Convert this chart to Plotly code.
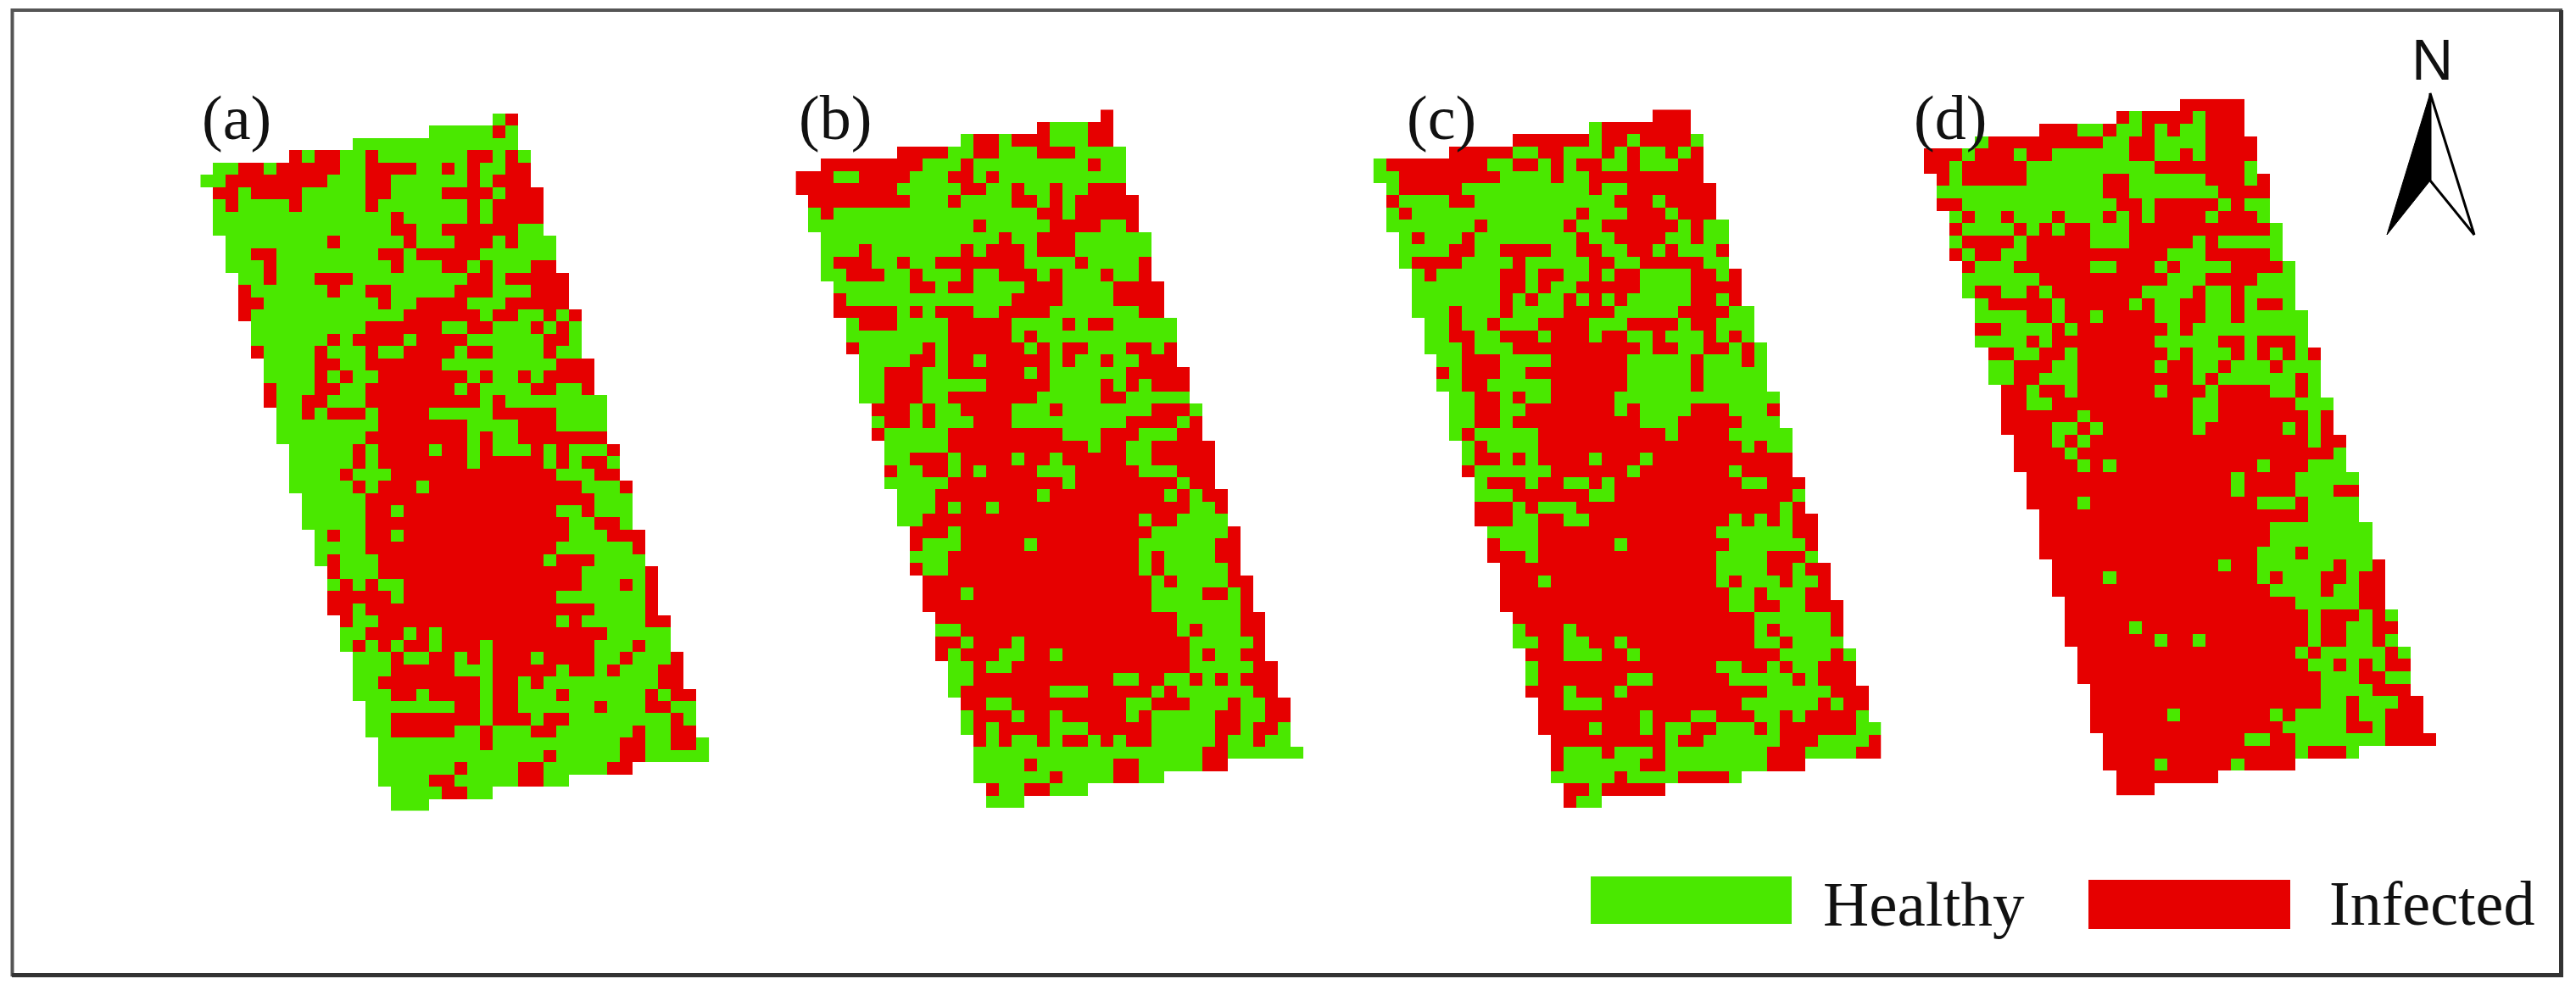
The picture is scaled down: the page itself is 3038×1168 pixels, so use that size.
import plotly.graph_objects as go

W = 3038
H = 1168

GREEN = "#4AE800"
RED = "#E60000"

# each row: colour + column where that colour starts, ".N" = where the row ends
PANEL_A = """g23 r24 .25
g18 r23 g24 .25
g12 .25
r7 g8 r9 g11 r13 g14 r21 g23 r24 g25 .26
g1 r3 g5 r6 g11 r13 g17 r19 g20 r21 g22 r24 .26
g0 r2 g10 r13 g15 r21 g22 r23 .26
r1 g3 r4 g8 r13 g15 r19 g23 r24 .27
g1 r2 g3 r7 g8 r13 g14 r21 g22 r23 .27
g1 r15 g16 r21 g22 r23 .27
g1 r15 g17 r19 g25 .27
g2 r10 g11 r16 g17 r20 g23 r24 g25 .28
g2 r4 g6 r14 g16 r17 g22 .28
g2 r5 g6 r15 g16 r19 g21 r22 g23 r26 .28
g3 r5 g6 r9 g12 r21 g23 r24 .29
r3 g4 r10 g11 r13 g15 r20 g23 r26 .29
r3 g5 r14 g15 r17 g21 r24 .29
r3 g4 r16 g22 r23 g25 r27 g28 r29 .30
g4 r13 g19 r21 g23 r26 g27 r28 g29 .30
g4 r10 g11 r12 g16 r17 g21 r27 g29 .30
r4 g5 r9 g10 r13 g14 r16 g20 r21 g23 r27 g28 .30
g5 r9 g11 r13 g19 r28 .31
g5 r9 g10 r11 g12 r14 g21 r22 g23 r25 g26 r27 .31
r5 g6 r9 g11 r13 g20 r21 g22 r26 g28 r30 .31
r5 g6 r8 g10 r13 g22 r23 g24 .32
g6 r8 g9 r10 g13 r14 g18 r23 g28 .32
g6 r14 g21 r25 g28 .32
g6 r13 g21 r22 g23 r25 .32
g7 r12 g13 r14 g18 r19 g21 r22 g23 r26 g27 r28 g29 r32 .33
g7 r12 g13 r14 g21 r22 g27 r28 g29 r30 g32 .33
g7 r11 g12 r15 g28 r31 .33
g7 r12 g13 r14 g17 r18 g30 r33 .34
g8 r13 g31 .34
g8 r13 g15 r16 g28 r30 g31 .34
g8 r13 g29 r31 g33 .34
g9 r10 g11 r13 g15 r16 g29 r32 .35
g9 r13 g28 r34 .35
g9 r10 g11 r14 g27 r28 g31 .35
r10 g11 r14 g30 r35 .36
g10 r11 g12 r13 g14 r16 g30 r33 g34 r35 .36
r10 g15 r16 g28 r35 .36
r10 g12 r13 g31 r35 .36
r11 g12 r14 g28 r29 g30 r35 .37
g11 r13 g16 r17 g18 r19 g32 .37
g11 r12 g13 r14 g15 r16 g18 r19 g22 r23 g31 r34 g35 .37
g12 r15 g16 r18 g20 r21 g22 r23 g26 r27 g31 r33 g34 r37 .38
g12 r15 g20 r23 g28 r29 g31 r32 g33 r36 .38
g12 r14 g22 r23 g25 r26 g27 r36 .38
g12 r15 g17 r18 g22 r23 g25 r28 g29 r35 g36 r37 .39
g13 r20 g22 r23 g25 r31 g32 r35 g37 .39
g13 r15 g22 r23 g26 r27 g29 r37 g38 .39
g13 r15 g20 r22 g23 r26 g28 r34 g35 r37 .39
g14 r22 g23 r33 g35 r37 g39 .40
g14 r27 g28 r33 g35 .40
g14 r20 g21 r25 g27 r32 .34
g14 r18 g20 r25 g27 .29
g15 r19 g21 .23
g15 .18"""

PANEL_B = """r24 .25
r19 g20 r23 .25
g13 r14 g16 r17 g20 r23 .25
r8 g12 r14 g16 r19 g22 .26
r2 g10 r13 g14 r23 g24 .26
r0 g3 r5 g9 r12 g14 r15 g16 .26
r0 g8 r13 g15 r17 g18 r20 g21 r23 .26
r1 g9 r12 g13 r17 g19 r20 g21 r22 .27
g1 r2 g3 r19 g21 r22 .27
g1 r14 g15 r20 g24 r26 .27
g2 r16 g17 r19 g22 .28
g2 r5 g6 r13 g14 r15 g18 r19 g22 .28
g2 r3 g6 r8 g9 r11 g18 r22 g23 r27 .28
g2 r4 g7 r9 g10 r13 g14 r16 g19 r20 g21 r24 g25 r27 .28
g3 r9 g11 r12 g14 r18 g21 r25 .29
r3 g4 r17 g21 r25 .29
r3 g8 r9 g10 r11 g14 r16 g20 r27 .29
g4 r5 g8 r12 g17 r21 g22 r23 g25 .30
g4 r12 g17 r18 g19 .30
r4 g5 r10 g11 r12 g18 r19 g20 r21 g23 r26 g28 r29 .30
g5 r9 g11 r12 g14 r15 g20 r21 g22 r24 g25 r27 .30
g5 r7 g10 r12 g18 r19 g20 r26 .31
g5 r7 g10 r15 g20 r24 g25 r26 g27 r28 .31
g5 r7 g10 r12 g19 r24 g26 .31
r6 g9 r10 g11 r13 g17 r20 g21 r28 g31 .32
g6 r7 g9 r10 g11 r14 g17 r26 g30 r31 .32
r6 g7 r12 g21 r24 g27 r30 .32
g7 r12 g23 r24 g26 r28 .33
g7 r9 g12 r13 g17 r18 g20 r21 g26 r28 .33
r7 g8 r10 g12 r13 g14 r15 g19 r22 g27 r30 .33
g7 r12 g21 r22 g30 r31 .33
g8 r11 g19 r20 g29 r30 g31 r32 .34
g8 r11 g12 r13 g15 r16 g31 r33 .34
g8 r10 g27 r28 g30 .34
r9 g12 r13 g28 r34 .35
r9 g10 r13 g18 r19 g27 r33 .35
g9 r12 g27 r28 g29 r33 .35
r9 g10 r12 g27 r28 g29 r34 .35
r10 g28 r29 g30 r34 .36
r10 g13 r14 g28 r32 g34 r35 .36
r10 g28 r35 .36
r11 g30 r35 .37
g11 r13 g30 r31 g32 r35 .37
r11 g13 r14 g17 r18 g31 r36 .37
r11 g12 r13 g16 r18 g20 r21 g31 r32 g33 r35 .37
g12 r14 g15 r17 g31 r36 .38
g12 r14 g25 r27 g29 r31 g32 r33 g34 r35 .38
g12 r13 g20 r23 g28 r29 g30 r36 .38
r13 g15 r17 g26 r28 g31 r34 g35 r37 .39
g13 r14 g17 r18 g20 r21 g26 r27 g28 r33 g35 r37 .39
g13 r14 g15 r16 g20 r23 g28 r33 g35 r36 g38 .39
r14 g15 r16 g17 r19 g20 r21 g23 r24 g25 r26 g28 r33 g34 r36 g37 .39
g14 r32 g34 .40
g14 r18 g19 r25 g27 r32 .34
g14 r20 g21 r25 g27 .29
r15 g16 r18 g20 .23
g15 .18"""

PANEL_C = """r22 .25
g17 r18 .25
r11 g17 r18 g20 r21 g25 .26
r6 g11 r13 g15 r18 g19 r20 g21 r23 g24 r25 .26
g0 r1 g9 r11 g13 r14 g15 r16 g18 r20 g21 r24 .26
g0 r2 g10 r14 g15 r17 .26
g1 r2 g7 r17 g18 r20 .27
r1 g2 r6 g8 r19 g22 r23 .27
g1 r2 g3 r16 g17 r20 g23 r24 .27
g1 r8 g9 r15 g16 r18 g24 r25 g26 .28
g2 r3 g4 r7 g8 r16 g17 r19 g23 r25 g26 .28
g2 r6 g8 r10 g14 r16 g18 r20 g22 r23 g24 r27 .28
g2 r3 g7 r11 g12 r17 g19 r21 g26 .28
g3 r4 g5 r10 g12 r13 g15 r17 g18 r19 g21 r25 g27 r28 .29
g3 r10 g12 r13 g14 r16 g21 r25 .29
g3 r10 g11 r12 g13 r15 g16 r17 g18 r19 g20 r25 g27 r28 .29
g3 r6 g7 r10 g11 r15 g19 r24 g28 .30
g4 r6 g7 r9 g10 r13 g17 r20 g24 r25 g27 .30
g4 r6 g8 r10 g13 r14 g17 r18 g20 r22 g23 r26 g27 r28 g29 .30
g4 r7 g8 r11 g21 r22 g24 r26 g28 r29 g30 .31
g5 r7 g10 r14 g20 r25 g26 r29 g30 .31
r5 g6 r7 g10 r12 g20 r25 g26 .31
g5 r7 g9 r14 g20 r25 g26 .31
g6 r8 g10 r11 g12 r14 g19 .32
g6 r8 g10 r12 g19 r20 g21 r25 g28 r31 .32
g6 r8 g10 r11 g21 r24 g29 .32
g6 r7 g8 r13 g23 r24 g28 .33
g7 r8 g9 r13 g29 r30 g31 .33
g7 r8 g10 r11 g12 r13 g17 r18 g21 r22 .33
r7 g8 r14 g20 r21 g28 r29 .33
g8 r9 g12 r13 g15 r17 g18 r19 g29 r31 .34
g8 r11 g17 r19 g33 .34
r8 g11 r12 g13 r16 g32 r33 .34
r8 g11 r13 g15 r17 g28 r29 g30 r31 g32 r33 .35
g9 r13 g27 r33 .35
r9 g10 r13 g19 r20 g28 r34 .35
r9 g12 r13 g27 r31 g34 .35
r10 g27 r31 g33 r34 .36
r10 g13 r14 g27 r28 g29 r32 g33 r35 .36
r10 g28 r30 g31 r34 .36
r10 g28 r30 g32 r34 .37
r11 g30 r36 .37
g11 r12 g15 r16 g30 r31 g32 r36 .37
g11 r13 g15 r17 g19 r20 g30 r32 g33 .37
r12 g15 r18 g20 r21 g32 r36 g37 .38
g12 r13 g27 r29 g31 r32 g33 r35 .38
g12 r13 g20 r22 g28 r33 g34 r35 .38
r12 g15 r16 g19 r20 g31 r36 .39
r13 g15 r18 g29 r35 g36 r37 .39
r13 g21 r22 g25 r27 g30 r32 g33 r34 g38 .39
r13 g17 r18 g21 r22 g23 r25 g27 r30 g31 r32 g38 .40
r14 g23 r24 g26 r32 g35 r39 .40
r14 g15 r18 g19 r22 g23 r31 g34 r38 .40
r14 g15 r21 g23 r31 .34
g14 r19 g20 r24 g28 .29
r15 g17 r18 .23
r15 g16 .18"""

PANEL_D = """r20 .25
r15 g16 r17 g21 r22 .25
r9 g12 r14 g15 r17 g18 r19 g20 r22 .25
g4 r5 g14 r16 g18 r22 .26
r0 g3 r4 g7 r8 g10 r16 g18 r20 g21 r22 .26
r0 g2 r3 g8 r18 g25 .26
r1 g2 r3 g8 r14 g16 r22 g25 r26 .27
g1 r14 g16 r23 .27
r1 g3 r15 g17 r18 g23 r24 g25 .27
g2 r3 g4 r6 g7 r10 g11 r14 g15 r16 g17 r18 g22 r23 g26 .27
r2 g3 r7 g8 r9 g10 r11 g13 r16 g27 .28
g2 r3 g7 r8 g13 r16 g21 r22 g23 .28
r2 g3 r4 g6 r8 g19 r22 g27 .28
r3 g4 r7 g13 r15 g18 r19 g20 r24 g28 .29
g3 r9 g19 r22 g26 .29
g3 r4 g6 r8 g9 r10 g17 r21 g22 r24 g25 .29
g4 r5 g10 r11 g16 r17 g18 r20 g22 r24 g25 r26 g28 .29
g4 r8 g10 r11 g13 r14 g18 r20 g22 r24 g25 .30
r4 g6 r10 g11 r12 g19 r20 g21 .30
g4 r8 g9 r10 g18 r23 g25 r26 g29 .30
r5 g7 r9 g11 r12 g19 r20 g21 r24 g25 r26 g27 r28 g29 r30 .31
g5 r7 g10 r12 g18 r19 g21 r23 g24 r27 g28 .31
g5 r7 g9 r12 g21 r22 g23 r29 g30 .31
r6 g8 r9 g11 r12 g18 r19 g22 r23 g27 r29 g30 .31
r6 g8 r10 g21 r23 g29 .32
r6 g12 r13 g21 r23 g30 r31 .32
r6 g10 r12 g13 r14 g21 r22 g28 r29 g30 r31 .32
r7 g10 r11 g12 r13 g30 r31 .33
r7 g11 r12 g32 .33
r7 g12 r13 g14 r15 g26 r27 g30 .33
r8 g24 r25 g29 .34
r8 g24 r25 g29 r32 .34
r8 g12 r13 g26 r29 g30 .34
r9 g30 .34
r9 g27 .35
r9 g27 .35
r9 g26 r29 g30 .35
r10 g23 r24 g26 r32 g33 r35 .36
r10 g14 r15 g26 r27 g28 r31 g33 r34 .36
r10 g27 r31 g32 r34 .36
r11 g29 r34 .36
r11 g30 r31 g34 r35 g36 .37
r11 g16 r17 g30 r31 g33 r35 .37
r11 g18 r19 g21 r22 g30 r31 g33 r35 g36 .37
r12 g29 r30 g31 r36 g37 .38
r12 g30 r32 g33 r34 g35 r36 .38
r12 g31 r34 g36 .38
r13 g31 r35 .38
r13 g31 r33 g34 r37 .39
r13 g19 r20 g27 r28 g29 r33 g34 r36 .39
r13 g28 r33 g35 r36 .39
r14 g25 r27 g29 r36 .40
r14 g29 r30 g33 .34
r14 g18 r19 g24 r25 .29
r15 .23
r15 .18"""

PANEL_LABELS = ["(a)", "(b)", "(c)", "(d)"]
LEGEND_NAMES = ["Healthy", "Infected"]


def read_rows(text):
    rows = []
    for line in text.split("\n"):
        row = [None] * 40
        tokens = line.split()
        for tok, nxt in zip(tokens[:-1], tokens[1:]):
            val = 0 if tok[0] == "g" else 1
            for c in range(int(tok[1:]), int(nxt[1:])):
                row[c] = val
        rows.append(row)
    return rows


def px(x):
    return x / W


def py(y):
    return 1 - y / H


# left, top, cell width, cell height in page pixels
placing = [
    (236.3, 134.0, 15.0, 14.43),
    (938.4, 129.3, 14.97, 14.45),
    (1619.6, 129.3, 14.97, 14.45),
    (2269.0, 116.7, 15.1, 14.67),
]
label_pos = [(236, 139), (940, 139), (1657, 139), (2255, 139)]

fig = go.Figure()
layout_axes = {}
grids = [PANEL_A, PANEL_B, PANEL_C, PANEL_D]

for i, grid in enumerate(grids):
    z = read_rows(grid)
    x0, y0, dx, dy = placing[i]
    nrows = len(z)
    name = "" if i == 0 else str(i + 1)
    fig.add_trace(go.Heatmap(
        z=z,
        x0=0.5, dx=1, y0=0.5, dy=1,
        xaxis="x" + name, yaxis="y" + name,
        zmin=0, zmax=1,
        colorscale=[[0, GREEN], [0.5, GREEN], [0.5, RED], [1, RED]],
        showscale=False,
        hoverongaps=False,
    ))
    layout_axes["xaxis" + name] = dict(
        domain=[px(x0), px(x0 + 40 * dx)], range=[0, 40], visible=False,
        anchor="y" + name, fixedrange=True,
    )
    layout_axes["yaxis" + name] = dict(
        domain=[py(y0 + nrows * dy), py(y0)], range=[nrows, 0], visible=False,
        anchor="x" + name, fixedrange=True,
    )

shapes = []


def rect(x0, y0, x1, y1, **kw):
    shapes.append(dict(type="rect", xref="paper", yref="paper",
                       x0=px(x0), x1=px(x1), y0=py(y1), y1=py(y0), **kw))


def poly(points, **kw):
    path = "M " + " L ".join(f"{px(a)},{py(b)}" for a, b in points) + " Z"
    shapes.append(dict(type="path", xref="paper", yref="paper", path=path, **kw))


# outer frame, heavier on the bottom and right
rect(14.5, 12, 3020, 1150, line=dict(color="#555555", width=4), fillcolor="rgba(0,0,0,0)")
rect(14, 1148, 3023, 1153, line=dict(width=0), fillcolor="#333333")
rect(3018, 12, 3023, 1153, line=dict(width=0), fillcolor="#333333")

# legend swatches
rect(1876, 1034, 2113, 1090, line=dict(width=0), fillcolor=GREEN)
rect(2463, 1038, 2701, 1096, line=dict(width=0), fillcolor=RED)

# north arrow
poly([(2866, 110), (2815, 277), (2866, 213)], line=dict(color="black", width=1), fillcolor="black")
poly([(2866, 110), (2918, 277), (2866, 213)], line=dict(color="black", width=3), fillcolor="white")

annotations = []
serif = "Liberation Serif, Times New Roman, serif"
for lab, (lx, ly) in zip(PANEL_LABELS, label_pos):
    annotations.append(dict(text=lab, x=px(lx), y=py(ly), xref="paper", yref="paper",
                            xanchor="left", yanchor="middle", showarrow=False,
                            font=dict(family=serif, size=74, color="#111111")))
annotations.append(dict(text=LEGEND_NAMES[0], x=px(2148), y=py(1066), xref="paper", yref="paper",
                        xanchor="left", yanchor="middle", showarrow=False,
                        font=dict(family=serif, size=75, color="#111111")))
annotations.append(dict(text=LEGEND_NAMES[1], x=px(2745), y=py(1066), xref="paper", yref="paper",
                        xanchor="left", yanchor="middle", showarrow=False,
                        font=dict(family=serif, size=74, color="#111111")))
annotations.append(dict(text="N", x=px(2868), y=py(70), xref="paper", yref="paper",
                        xanchor="center", yanchor="middle", showarrow=False,
                        font=dict(family="Liberation Sans, Arial, sans-serif", size=68, color="#111111")))

fig.update_layout(
    width=W, height=H,
    margin=dict(l=0, r=0, t=0, b=0),
    paper_bgcolor="white", plot_bgcolor="rgba(0,0,0,0)",
    showlegend=False,
    shapes=shapes,
    annotations=annotations,
    **layout_axes,
)

fig.write_html("out.html", config=dict(displayModeBar=False),
               post_script="document.body.style.margin='0';document.body.style.overflow='hidden';")
